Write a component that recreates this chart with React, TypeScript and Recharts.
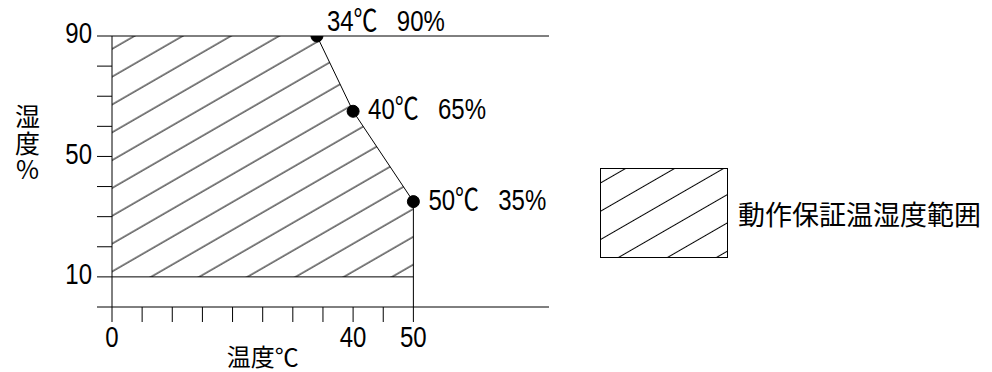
import React from 'react';
import {
  ComposedChart,
  Area,
  Line,
  XAxis,
  YAxis,
  ReferenceLine,
  LabelList,
  Legend,
  Label,
} from 'recharts';

// operating range polygon: upper humidity limit per temperature, floor at 10 %
const regionTemps = [0, 34, 40, 50];
const regionUpper = [90, 90, 65, 35];
const regionLower = 10;

// labelled corner points
const cornerTemps = [34, 40, 50];
const cornerHumidity = [90, 65, 35];

const xTicks = [0, 5, 10, 15, 20, 25, 30, 35, 40, 45, 50];
const xTickLabels = [0, 40, 50];
const yTicks = [0, 10, 20, 30, 40, 50, 60, 70, 80, 90];
const yTickLabels = [10, 50, 90];

const xTitle = '温度℃';
const yTitle = '湿度%';
const rangeName = '動作保証温湿度範囲';

const regionData = regionTemps.map((t, i) => ({
  t,
  range: [regionLower, regionUpper[i]],
}));
const cornerData = cornerTemps.map((t, i) => ({ t, h: cornerHumidity[i] }));

const NUM_FONT = "'Liberation Sans', Arial, 'Noto Sans CJK JP', sans-serif";
const JP_FONT = "'Noto Sans CJK JP', sans-serif";
const INK = '#000';
const SQUEEZE = 0.8; // reference digits are narrow

const NarrowText = ({ x, y, anchor, size, children }: any) => (
  <g transform={`translate(${x},${y}) scale(${SQUEEZE},1)`}>
    <text
      x={0}
      y={0}
      textAnchor={anchor}
      dominantBaseline="central"
      fontFamily={NUM_FONT}
      fontSize={size}
      fill={INK}
    >
      {children}
    </text>
  </g>
);

const XTick = (props: any) => {
  const { x, y, payload } = props;
  if (!xTickLabels.includes(payload.value)) return null;
  return (
    <NarrowText x={x} y={y + 13} anchor="middle" size={30}>
      {payload.value}
    </NarrowText>
  );
};

const YTick = (props: any) => {
  const { x, y, payload } = props;
  if (!yTickLabels.includes(payload.value)) return null;
  return (
    <NarrowText x={x - 3} y={y - 3} anchor="end" size={30}>
      {payload.value}
    </NarrowText>
  );
};

const CornerLabel = (props: any) => {
  const { x, y, index } = props;
  const t = cornerTemps[index];
  const h = cornerHumidity[index];
  const dx = index === 0 ? 10 : 15;
  const dy = index === 0 ? -16 : -3;
  return (
    <NarrowText x={x + dx} y={y + dy} anchor="start" size={30}>
      <tspan>{`${t}℃`}</tspan>
      <tspan dx={24}>{`${h}%`}</tspan>
    </NarrowText>
  );
};

const LegendBox = (props: any) => {
  const item = (props.payload || []).find((p: any) => p.dataKey === 'range');
  return (
    <div style={{ display: 'flex', alignItems: 'center' }}>
      <svg width={128} height={90} style={{ display: 'block' }}>
        <rect
          x={0.5}
          y={0.5}
          width={127}
          height={89}
          fill="url(#hatchLegend)"
          stroke={INK}
        />
      </svg>
      <span
        style={{
          marginLeft: 10,
          fontFamily: JP_FONT,
          fontSize: 27,
          color: INK,
          lineHeight: 1,
          whiteSpace: 'nowrap',
        }}
      >
        {item ? item.value : rangeName}
      </span>
    </div>
  );
};

export default function App() {
  return (
    <div style={{ position: 'absolute', left: 0, top: 0, width: 992, height: 372 }}>
      <svg width={0} height={0} style={{ position: 'absolute' }}>
        <defs>
          <pattern
            id="hatch"
            patternUnits="userSpaceOnUse"
            width={24.1}
            height={24.1}
            patternTransform="rotate(-30)"
          >
            <line x1={0} y1={2} x2={24.1} y2={2} stroke={INK} strokeWidth={1} />
          </pattern>
          <pattern
            id="hatchLegend"
            patternUnits="userSpaceOnUse"
            width={24.5}
            height={24.5}
            patternTransform="rotate(-30)"
          >
            <line x1={0} y1={13.2} x2={24.5} y2={13.2} stroke={INK} strokeWidth={1} />
          </pattern>
        </defs>
      </svg>
      <ComposedChart
        width={992}
        height={372}
        data={regionData}
        margin={{ top: 36, right: 443, bottom: 15, left: 0 }}
      >
        <XAxis
          type="number"
          dataKey="t"
          domain={[0, 72.5]}
          ticks={xTicks}
          allowDataOverflow
          height={50}
          tickSize={15}
          tickMargin={2}
          axisLine={{ stroke: INK }}
          tickLine={{ stroke: INK }}
          tick={<XTick />}
          interval={0}
        >
          <Label
            content={(p: any) => {
              const vb = p.viewBox;
              const cx = vb.x + (25 / 72.5) * vb.width;
              return (
                <text
                  x={cx}
                  y={vb.y + 48}
                  textAnchor="middle"
                  dominantBaseline="central"
                  fontFamily={JP_FONT}
                  fontSize={24}
                  fill={INK}
                >
                  {xTitle}
                </text>
              );
            }}
          />
        </XAxis>
        <YAxis
          type="number"
          domain={[0, 90]}
          ticks={yTicks}
          allowDataOverflow
          width={112}
          tickSize={15}
          tickMargin={2}
          axisLine={{ stroke: INK }}
          tickLine={{ stroke: INK }}
          tick={<YTick />}
          interval={0}
        >
          <Label
            content={(p: any) => {
              const vb = p.viewBox;
              return (
                <text
                  x={vb.x + 27.5}
                  y={vb.y + 108}
                  textAnchor="middle"
                  fontFamily={JP_FONT}
                  fontSize={25}
                  letterSpacing={1.5}
                  fill={INK}
                  style={{ writingMode: 'vertical-rl', textOrientation: 'upright' } as any}
                >
                  {yTitle}
                </text>
              );
            }}
          />
        </YAxis>
        <Area
          type="linear"
          dataKey="range"
          name={rangeName}
          stroke="none"
          fill="url(#hatch)"
          fillOpacity={1}
          dot={false}
          activeDot={false}
          isAnimationActive={false}
        />
        <ReferenceLine y={regionUpper[0]} stroke={INK} />
        <ReferenceLine
          segment={[
            { x: regionTemps[0], y: regionLower },
            { x: regionTemps[regionTemps.length - 1], y: regionLower },
          ]}
          stroke={INK}
        />
        <ReferenceLine
          segment={[
            { x: regionTemps[regionTemps.length - 1], y: 0 },
            { x: regionTemps[regionTemps.length - 1], y: regionUpper[regionUpper.length - 1] },
          ]}
          stroke={INK}
        />
        <Line
          data={cornerData}
          type="linear"
          dataKey="h"
          legendType="none"
          stroke={INK}
          strokeWidth={1}
          dot={{ r: 6, fill: INK, stroke: INK, strokeWidth: 1 }}
          activeDot={false}
          isAnimationActive={false}
        >
          <LabelList dataKey="h" content={<CornerLabel />} />
        </Line>
        <Legend
          layout="horizontal"
          verticalAlign="middle"
          align="center"
          content={<LegendBox />}
          wrapperStyle={{ position: 'absolute', left: 600, top: 168, width: 'auto', height: 'auto' }}
        />
      </ComposedChart>
    </div>
  );
}
